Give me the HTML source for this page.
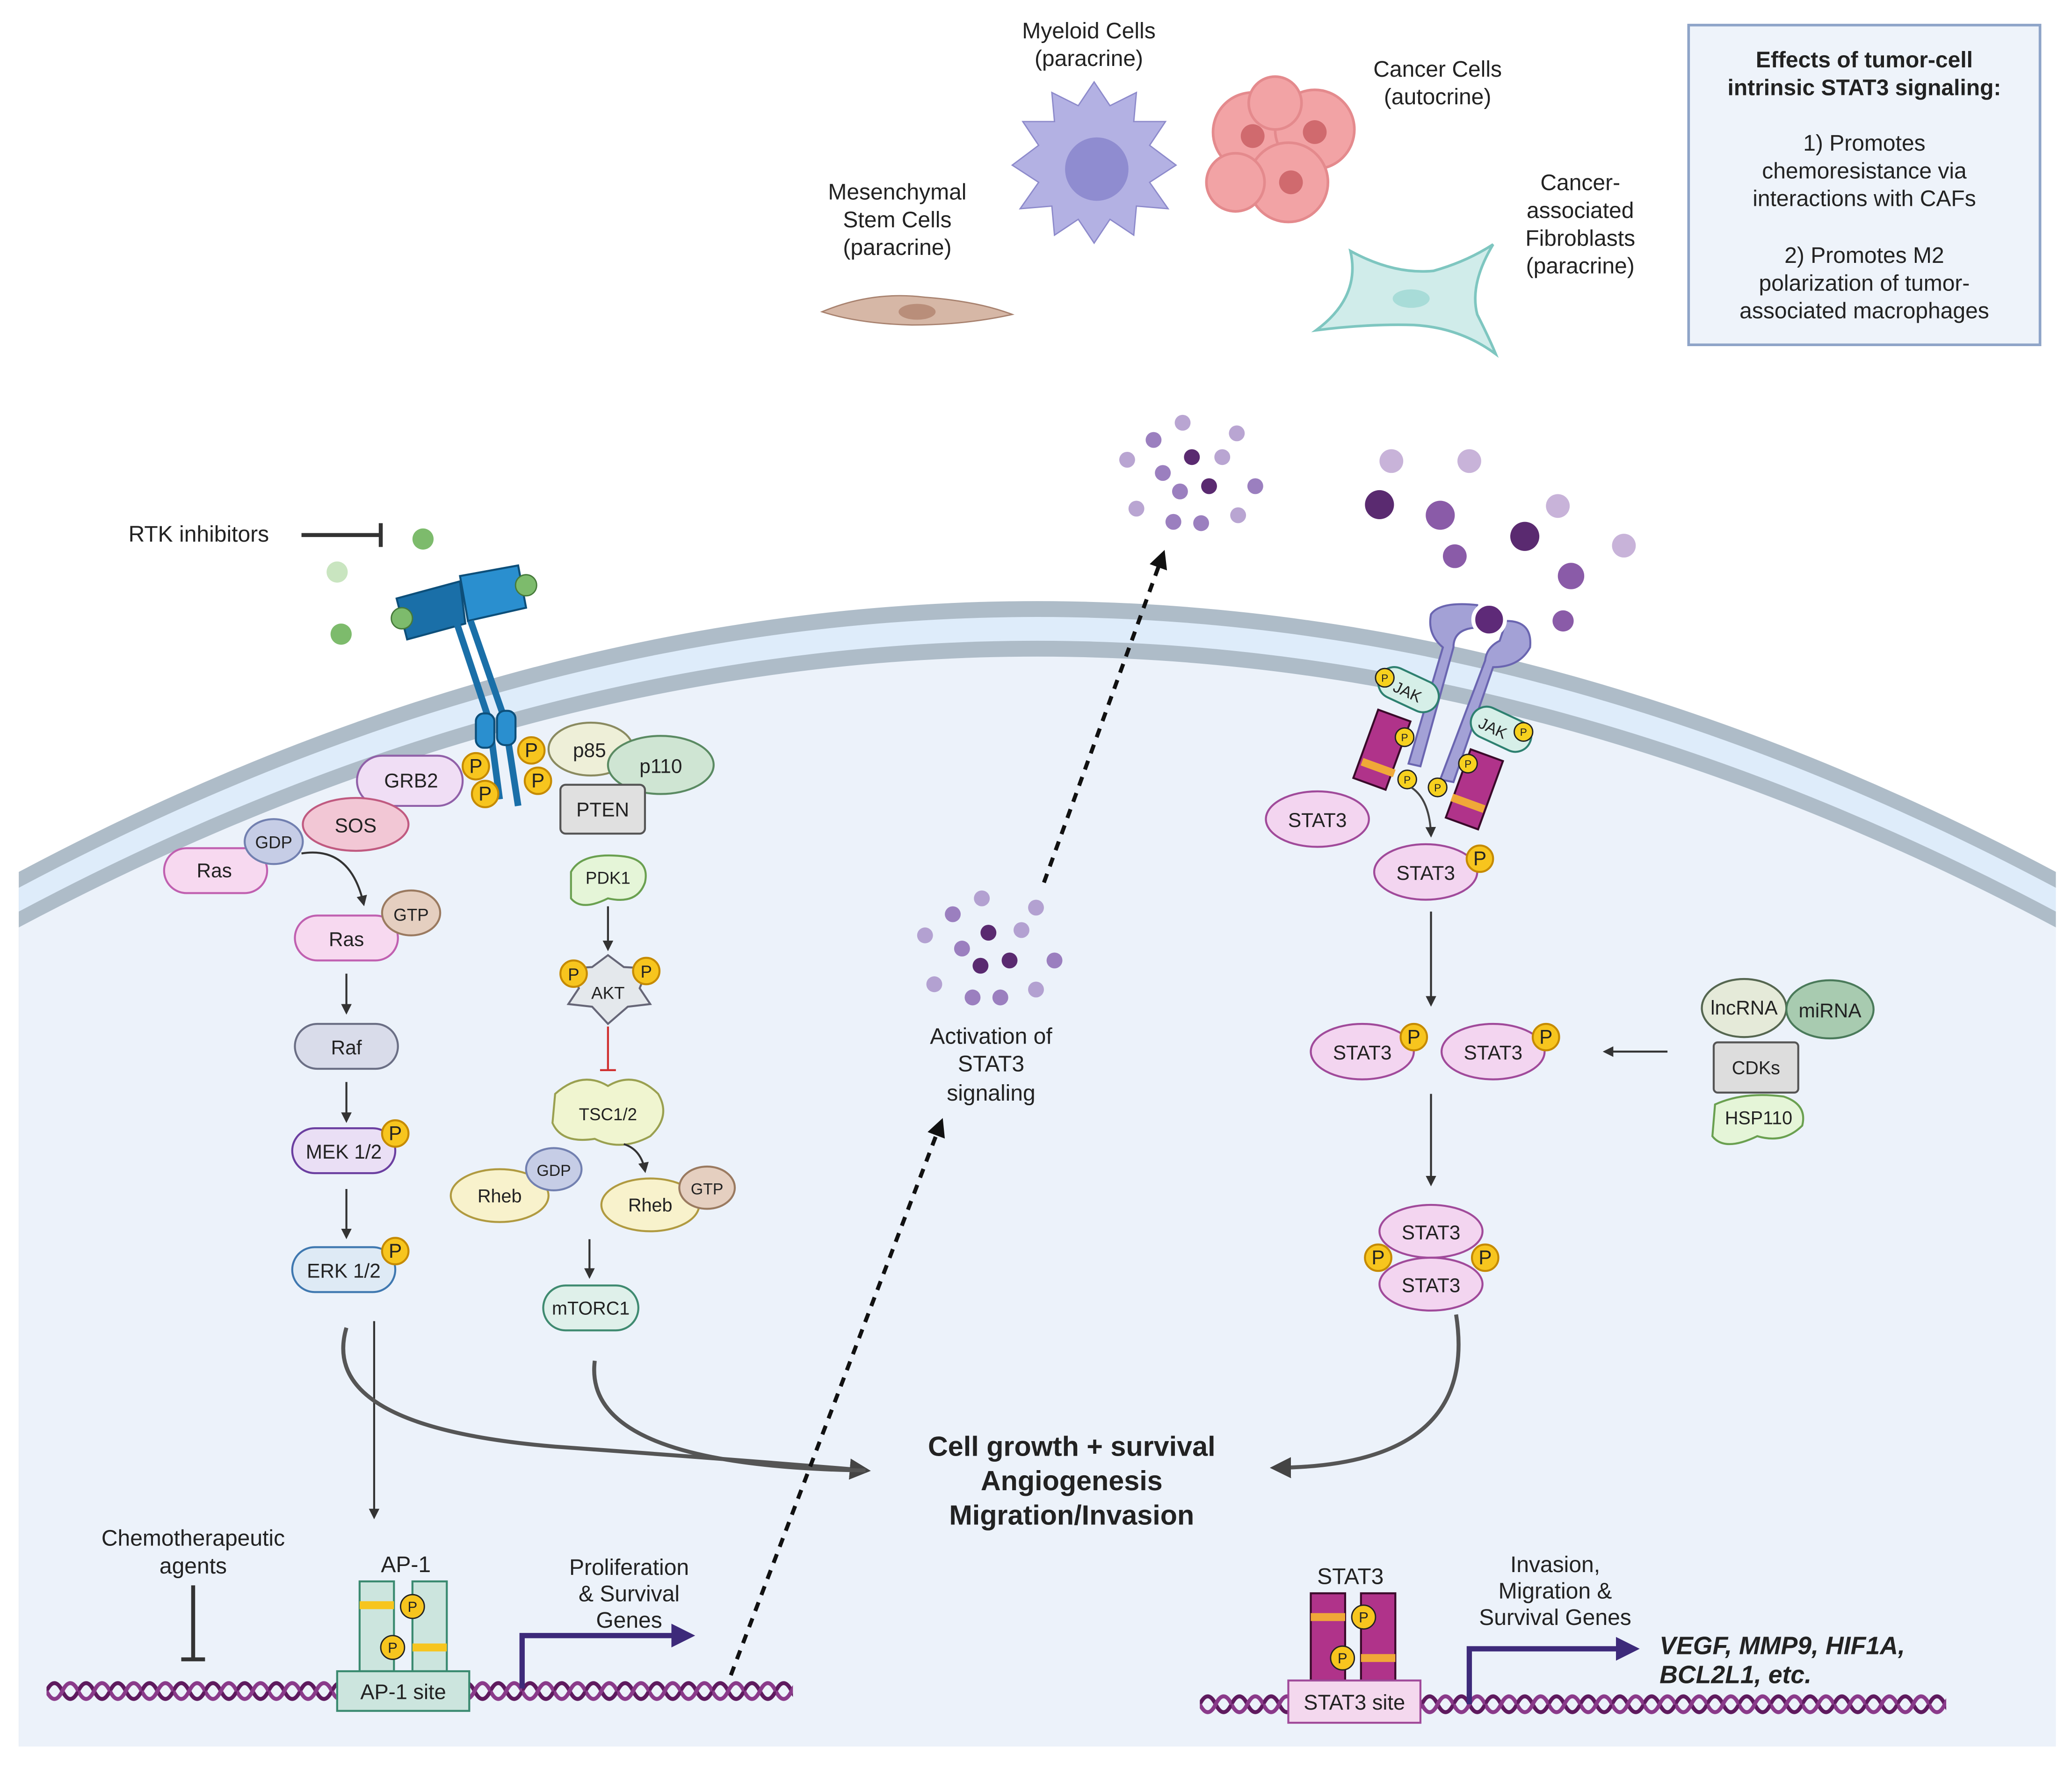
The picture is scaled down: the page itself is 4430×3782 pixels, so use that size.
<!DOCTYPE html>
<html><head><meta charset="utf-8"><style>
html,body{margin:0;padding:0;background:#fff}
svg{display:block}
text{font-family:"Liberation Sans",sans-serif;fill:#222}
</style></head><body>
<svg width="4430" height="3782" viewBox="0 0 1568 1339" xmlns="http://www.w3.org/2000/svg">
<defs>
<pattern id="hx1" x="35" y="1268" width="24" height="24" patternUnits="userSpaceOnUse">
<path d="M0,12 Q6,0 12,12 T24,12" fill="none" stroke="#5e1a5e" stroke-width="3"/>
<path d="M0,12 Q6,24 12,12 T24,12" fill="none" stroke="#8a3a8a" stroke-width="3"/>
</pattern>
<pattern id="hx2" x="908" y="1278" width="24" height="24" patternUnits="userSpaceOnUse">
<path d="M0,12 Q6,0 12,12 T24,12" fill="none" stroke="#5e1a5e" stroke-width="3"/>
<path d="M0,12 Q6,24 12,12 T24,12" fill="none" stroke="#8a3a8a" stroke-width="3"/>
</pattern>
<marker id="ah" markerWidth="8" markerHeight="8" refX="6" refY="4" orient="auto" markerUnits="userSpaceOnUse"><path d="M0,0 L8,4 L0,8 Z" fill="#333"/></marker>
<marker id="ahb" markerWidth="14" markerHeight="14" refX="10" refY="7" orient="auto" markerUnits="userSpaceOnUse"><path d="M0,0 L14,7 L0,14 Z" fill="#111"/></marker>
<marker id="ahg" markerWidth="16" markerHeight="16" refX="12" refY="8" orient="auto" markerUnits="userSpaceOnUse"><path d="M0,0 L16,8 L0,16 Z" fill="#444"/></marker>
<marker id="ahp" markerWidth="18" markerHeight="18" refX="12" refY="9" orient="auto" markerUnits="userSpaceOnUse"><path d="M0,0 L18,9 L0,18 Z" fill="#3d2a7a"/></marker>
</defs>

<!-- cell -->
<path d="M14,660 Q785,250 1556,660 L1556,1322 L14,1322 Z" fill="#aebcc8"/>
<path d="M14,672 Q785,262 1556,672 L1556,1322 L14,1322 Z" fill="#deecfa"/>
<path d="M14,690 Q785,280 1556,690 L1556,1322 L14,1322 Z" fill="#aebcc8"/>
<path d="M14,702 Q785,292 1556,702 L1556,1322 L14,1322 Z" fill="#ecf2fa"/>

<!-- top box -->
<rect x="1278" y="19" width="266" height="242" fill="#eef3fa" stroke="#8ea4c8" stroke-width="2"/>
<g font-size="17" text-anchor="middle">
<text x="1411" y="51" font-weight="bold">Effects of tumor-cell</text>
<text x="1411" y="72" font-weight="bold">intrinsic STAT3 signaling:</text>
<text x="1411" y="114">1) Promotes</text>
<text x="1411" y="135">chemoresistance via</text>
<text x="1411" y="156">interactions with CAFs</text>
<text x="1411" y="199">2) Promotes M2</text>
<text x="1411" y="220">polarization of tumor-</text>
<text x="1411" y="241">associated macrophages</text>
</g>

<!-- top cells -->
<g font-size="17" text-anchor="middle">
<text x="824" y="29">Myeloid Cells</text><text x="824" y="50">(paracrine)</text>
<text x="1088" y="58">Cancer Cells</text><text x="1088" y="79">(autocrine)</text>
<text x="679" y="151">Mesenchymal</text><text x="679" y="172">Stem Cells</text><text x="679" y="193">(paracrine)</text>
<text x="1196" y="144">Cancer-</text><text x="1196" y="165">associated</text><text x="1196" y="186">Fibroblasts</text><text x="1196" y="207">(paracrine)</text>
</g>
<polygon points="828,62 840,80 860,70 858,92 882,92 870,110 890,125 870,138 884,158 860,156 858,178 840,166 828,184 816,166 798,178 796,156 772,158 786,138 766,125 786,110 774,92 798,92 796,70 816,80" fill="#b3b1e3" stroke="#8d8acb"/>
<circle cx="830" cy="128" r="24" fill="#8f8cd0"/>
<g fill="#f2a3a5" stroke="#e48a8d" stroke-width="2">
<circle cx="948" cy="100" r="30"/><circle cx="995" cy="98" r="30"/><circle cx="975" cy="138" r="30"/><circle cx="935" cy="138" r="22"/><circle cx="965" cy="78" r="20"/>
</g>
<g fill="#d06a6e"><circle cx="948" cy="103" r="9"/><circle cx="995" cy="100" r="9"/><circle cx="977" cy="138" r="9"/></g>
<path d="M622,236 Q660,220 700,225 Q740,228 766,238 Q730,246 690,246 Q650,245 622,236 Z" fill="#d6b7a6" stroke="#a8826f"/>
<ellipse cx="694" cy="236" rx="14" ry="6" fill="#b98e7a"/>
<path d="M996,250 Q1030,225 1022,190 Q1055,208 1085,205 Q1110,198 1130,185 Q1112,215 1118,238 Q1128,258 1132,268 Q1105,248 1070,246 Q1035,245 996,250 Z" fill="#d0ecea" stroke="#7ec6c0" stroke-width="2"/>
<ellipse cx="1068" cy="226" rx="14" ry="7" fill="#a8dcd8"/>

<!-- cytokine dots -->
<g fill="#9b7fbf">
<circle cx="853" cy="348" r="6" opacity=".7"/><circle cx="873" cy="333" r="6"/><circle cx="895" cy="320" r="6" opacity=".7"/><circle cx="936" cy="328" r="6" opacity=".7"/><circle cx="880" cy="358" r="6"/><circle cx="925" cy="346" r="6" opacity=".7"/><circle cx="950" cy="368" r="6"/><circle cx="860" cy="385" r="6" opacity=".7"/><circle cx="888" cy="395" r="6"/><circle cx="909" cy="396" r="6"/><circle cx="937" cy="390" r="6" opacity=".7"/><circle cx="893" cy="372" r="6"/>
</g>
<circle cx="902" cy="346" r="6" fill="#5a2a70"/><circle cx="915" cy="368" r="6" fill="#5a2a70"/>
<g fill="#9b7fbf">
<circle cx="721" cy="692" r="6"/><circle cx="743" cy="680" r="6" opacity=".7"/><circle cx="784" cy="687" r="6" opacity=".7"/><circle cx="700" cy="708" r="6" opacity=".7"/><circle cx="728" cy="718" r="6"/><circle cx="773" cy="704" r="6" opacity=".7"/><circle cx="798" cy="727" r="6"/><circle cx="707" cy="745" r="6" opacity=".7"/><circle cx="736" cy="755" r="6"/><circle cx="757" cy="755" r="6"/><circle cx="784" cy="749" r="6" opacity=".7"/>
</g>
<circle cx="748" cy="706" r="6" fill="#5a2a70"/><circle cx="764" cy="727" r="6" fill="#5a2a70"/><circle cx="742" cy="731" r="6" fill="#5a2a70"/>
<g>
<circle cx="1053" cy="349" r="9" fill="#c8b3d9"/><circle cx="1112" cy="349" r="9" fill="#c8b3d9"/><circle cx="1044" cy="382" r="11" fill="#5a2a70"/><circle cx="1090" cy="390" r="11" fill="#8a5ba8"/><circle cx="1179" cy="383" r="9" fill="#c8b3d9"/><circle cx="1154" cy="406" r="11" fill="#5a2a70"/><circle cx="1229" cy="413" r="9" fill="#c8b3d9"/><circle cx="1101" cy="421" r="9" fill="#8a5ba8"/><circle cx="1189" cy="436" r="10" fill="#8a5ba8"/><circle cx="1183" cy="470" r="8" fill="#8a5ba8"/>
</g>

<!-- RTK inhibitors -->
<text x="97" y="410" font-size="17">RTK inhibitors</text>
<line x1="228" y1="405" x2="288" y2="405" stroke="#333" stroke-width="3"/>
<line x1="288" y1="396" x2="288" y2="414" stroke="#333" stroke-width="3"/>
<circle cx="320" cy="408" r="8" fill="#7dbb6c"/><circle cx="255" cy="433" r="8" fill="#c9e5c0"/><circle cx="258" cy="480" r="8" fill="#7dbb6c"/>
<!-- RTK -->
<g stroke="#0d4f7a" stroke-width="1.5">
<path d="M300,453 L348,440 L352,472 L308,484 Z" fill="#1a6fa8"/>
<path d="M348,436 L392,428 L398,460 L354,470 Z" fill="#2a8fcf"/>
<path d="M345,470 L370,545 L378,605" fill="none" stroke="#1a6fa8" stroke-width="5"/>
<path d="M356,470 L382,545 L392,610" fill="none" stroke="#1a6fa8" stroke-width="5"/>
<rect x="360" y="540" width="14" height="26" rx="6" fill="#2a8fcf"/><rect x="376" y="538" width="14" height="26" rx="6" fill="#2a8fcf"/>
</g>
<circle cx="304" cy="468" r="8" fill="#7dbb6c" stroke="#467a3a"/><circle cx="398" cy="443" r="8" fill="#7dbb6c" stroke="#467a3a"/>

<!-- JAK receptor -->
<g stroke="#6a65b0" stroke-width="1.5" fill="#a3a1d6">
<path d="M1083,465 Q1090,455 1118,458 L1120,475 Q1100,475 1100,490 L1075,580 L1066,578 L1092,490 Q1080,480 1083,465 Z"/>
<path d="M1158,490 Q1160,470 1140,470 L1135,485 Q1125,490 1124,500 L1090,590 L1100,592 L1130,505 Q1150,505 1158,490 Z"/>
</g>
<circle cx="1127" cy="469" r="12" fill="#5e2a78" stroke="#fff" stroke-width="3"/>
<g stroke="#2e8070" stroke-width="1.5" fill="#d6efe8">
<rect x="1042" y="510" width="48" height="24" rx="12" transform="rotate(25 1066 522)"/>
<rect x="1112" y="540" width="48" height="24" rx="12" transform="rotate(25 1136 552)"/>
</g>
<text x="1066" y="528" font-size="12" text-anchor="middle" transform="rotate(25 1066 522)">JAK</text>
<text x="1130" y="558" font-size="12" text-anchor="middle" transform="rotate(25 1136 552)">JAK</text>
<g fill="#b0338a" stroke="#3a0a2a" stroke-width="1.5">
<rect x="1033" y="540" width="26" height="55" transform="rotate(20 1046 567)"/>
<rect x="1103" y="570" width="26" height="55" transform="rotate(20 1116 597)"/>
</g>
<rect x="1030" y="578" width="26" height="6" fill="#f0a838" transform="rotate(20 1043 581)"/>
<rect x="1098" y="605" width="26" height="6" fill="#f0a838" transform="rotate(20 1111 608)"/>
<g fill="#f7d11e" stroke="#222" stroke-width="1">
<circle cx="1048" cy="513" r="7"/><circle cx="1153" cy="554" r="7"/><circle cx="1063" cy="558" r="7"/><circle cx="1111" cy="578" r="7"/><circle cx="1065" cy="590" r="7"/><circle cx="1088" cy="596" r="7"/>
</g>
<g font-size="8" text-anchor="middle">
<text x="1048" y="516">P</text><text x="1153" y="557">P</text><text x="1063" y="561">P</text><text x="1111" y="581">P</text><text x="1065" y="593">P</text><text x="1088" y="599">P</text>
</g>
<path d="M1068,596 Q1082,605 1083,632" fill="none" stroke="#444" stroke-width="1.5" marker-end="url(#ah)"/>

<!-- left pathway nodes -->
<g stroke-width="1.5">
<rect x="270" y="572" width="80" height="38" rx="19" fill="#f0def5" stroke="#9060a8"/>
<ellipse cx="269" cy="624" rx="40" ry="20" fill="#f2c7d5" stroke="#c05a80"/>
<rect x="124" y="642" width="78" height="34" rx="17" fill="#f7d9f0" stroke="#c060b0"/>
<ellipse cx="207" cy="637" rx="22" ry="17" fill="#c6cde6" stroke="#7280b0"/>
<rect x="223" y="693" width="78" height="34" rx="17" fill="#f7d9f0" stroke="#c060b0"/>
<ellipse cx="311" cy="691" rx="22" ry="17" fill="#e5cfc0" stroke="#9a7a60"/>
<rect x="223" y="775" width="78" height="34" rx="17" fill="#d9dcea" stroke="#6b6f85"/>
<rect x="221" y="854" width="78" height="34" rx="17" fill="#eadff5" stroke="#6b3fa0"/>
<rect x="221" y="944" width="78" height="34" rx="17" fill="#deeaf5" stroke="#3f78b0"/>
<ellipse cx="447" cy="567" rx="32" ry="20" fill="#eeefd8" stroke="#8a8a60"/>
<ellipse cx="500" cy="579" rx="40" ry="22" fill="#cfe5d3" stroke="#5a8a62"/>
<rect x="424" y="594" width="64" height="37" rx="4" fill="#e0e0e0" stroke="#555"/>
<path d="M432,660 Q440,645 470,648 Q492,650 488,668 Q482,685 460,680 Q440,690 432,680 Z" fill="#e5f5d8" stroke="#6aa050"/>
<polygon points="460,723 472,732 490,733 484,748 492,760 475,762 460,775 448,762 430,760 438,748 430,733 448,732" fill="#e4e8ec" stroke="#667"/>
<path d="M420,828 Q440,810 460,822 Q480,810 498,828 Q508,845 492,860 Q470,872 450,862 Q425,866 418,850 Z" fill="#f0f5d0" stroke="#9aa050"/>
<ellipse cx="378" cy="905" rx="37" ry="20" fill="#f8f2cc" stroke="#b09a40"/>
<ellipse cx="419" cy="885" rx="21" ry="16" fill="#c6cde6" stroke="#7280b0"/>
<ellipse cx="492" cy="912" rx="37" ry="20" fill="#f8f2cc" stroke="#b09a40"/>
<ellipse cx="535" cy="899" rx="21" ry="16" fill="#e5cfc0" stroke="#9a7a60"/>
<rect x="411" y="973" width="72" height="34" rx="17" fill="#dff0ea" stroke="#3f8a70"/>
</g>
<g fill="#f7c51e" stroke="#c58a00" stroke-width="1.5">
<circle cx="360" cy="580" r="10"/><circle cx="402" cy="568" r="10"/><circle cx="367" cy="601" r="10"/><circle cx="407" cy="591" r="10"/>
<circle cx="299" cy="858" r="10"/><circle cx="299" cy="947" r="10"/><circle cx="434" cy="737" r="10"/><circle cx="489" cy="735" r="10"/>
</g>
<g font-size="15" text-anchor="middle">
<text x="360" y="585">P</text><text x="402" y="573">P</text><text x="367" y="606">P</text><text x="407" y="596">P</text>
<text x="299" y="863">P</text><text x="299" y="952">P</text><text x="434" y="742" font-size="13">P</text><text x="489" y="740" font-size="13">P</text>
<text x="311" y="596">GRB2</text><text x="269" y="630">SOS</text><text x="162" y="664">Ras</text><text x="207" y="642" font-size="13">GDP</text>
<text x="262" y="716">Ras</text><text x="311" y="697" font-size="13">GTP</text><text x="262" y="798">Raf</text>
<text x="260" y="877">MEK 1/2</text><text x="260" y="967">ERK 1/2</text>
<text x="446" y="573">p85</text><text x="500" y="585">p110</text><text x="456" y="618">PTEN</text>
<text x="460" y="669" font-size="13">PDK1</text><text x="460" y="756" font-size="13">AKT</text><text x="460" y="848" font-size="13">TSC1/2</text>
<text x="378" y="910" font-size="14">Rheb</text><text x="419" y="890" font-size="12">GDP</text><text x="492" y="917" font-size="14">Rheb</text><text x="535" y="904" font-size="12">GTP</text>
<text x="447" y="995" font-size="14">mTORC1</text>
</g>
<g stroke="#333" stroke-width="1.5" fill="none">
<path d="M228,646 Q265,640 275,684" marker-end="url(#ah)"/>
<line x1="262" y1="737" x2="262" y2="766" marker-end="url(#ah)"/>
<line x1="262" y1="819" x2="262" y2="848" marker-end="url(#ah)"/>
<line x1="262" y1="900" x2="262" y2="936" marker-end="url(#ah)"/>
<line x1="460" y1="686" x2="460" y2="718" marker-end="url(#ah)"/>
<line x1="446" y1="938" x2="446" y2="966" marker-end="url(#ah)"/>
<path d="M472,866 Q485,870 488,886" marker-end="url(#ah)"/>
<line x1="283" y1="1000" x2="283" y2="1148" marker-end="url(#ah)"/>
</g>
<line x1="460" y1="777" x2="460" y2="810" stroke="#d03030" stroke-width="1.5"/>
<line x1="454" y1="810" x2="466" y2="810" stroke="#d03030" stroke-width="1.5"/>

<!-- curved arrows to center -->
<g fill="none" stroke="#555" stroke-width="3">
<path d="M262,1005 Q240,1080 420,1095 Q560,1105 655,1113" marker-end="url(#ahg)"/>
<path d="M450,1030 Q440,1110 655,1113"/>
<path d="M1102,995 Q1120,1110 965,1111" marker-end="url(#ahg)"/>
</g>
<g font-size="21" font-weight="bold" text-anchor="middle">
<text x="811" y="1102">Cell growth + survival</text>
<text x="811" y="1128">Angiogenesis</text>
<text x="811" y="1154">Migration/Invasion</text>
</g>

<!-- dashed arrows -->
<g fill="none" stroke="#111" stroke-width="3" stroke-dasharray="7,6">
<path d="M553,1268 L712,850" marker-end="url(#ahb)"/>
<path d="M790,668 L880,420" marker-end="url(#ahb)"/>
</g>
<g font-size="17" text-anchor="middle">
<text x="750" y="790">Activation of</text><text x="750" y="811">STAT3</text><text x="750" y="833">signaling</text>
</g>

<!-- right pathway -->
<g stroke="#a04a9a" stroke-width="1.5" fill="#f3d5f0">
<ellipse cx="997" cy="620" rx="39" ry="21"/>
<ellipse cx="1079" cy="660" rx="39" ry="21"/>
<ellipse cx="1031" cy="796" rx="39" ry="21"/>
<ellipse cx="1130" cy="796" rx="39" ry="21"/>
<ellipse cx="1083" cy="932" rx="39" ry="20"/>
<ellipse cx="1083" cy="972" rx="39" ry="20"/>
</g>
<g fill="#f7c51e" stroke="#c58a00" stroke-width="1.5">
<circle cx="1120" cy="650" r="10"/><circle cx="1070" cy="785" r="10"/><circle cx="1170" cy="785" r="10"/><circle cx="1043" cy="952" r="10"/><circle cx="1124" cy="952" r="10"/>
</g>
<g font-size="15" text-anchor="middle">
<text x="1120" y="655">P</text><text x="1070" y="790">P</text><text x="1170" y="790">P</text><text x="1043" y="957">P</text><text x="1124" y="957">P</text>
<text x="997" y="626">STAT3</text><text x="1079" y="666">STAT3</text><text x="1031" y="802">STAT3</text><text x="1130" y="802">STAT3</text><text x="1083" y="938">STAT3</text><text x="1083" y="978">STAT3</text>
</g>
<g stroke="#333" stroke-width="1.5">
<line x1="1083" y1="690" x2="1083" y2="760" marker-end="url(#ah)"/>
<line x1="1083" y1="828" x2="1083" y2="896" marker-end="url(#ah)"/>
<line x1="1262" y1="796" x2="1215" y2="796" marker-end="url(#ah)"/>
</g>
<ellipse cx="1320" cy="763" rx="32" ry="22" fill="#e5ead9" stroke="#556650" stroke-width="1.5"/>
<ellipse cx="1385" cy="764" rx="33" ry="22" fill="#a8cbb0" stroke="#4a7a5a" stroke-width="1.5"/>
<rect x="1297" y="789" width="64" height="38" rx="3" fill="#ddd" stroke="#555" stroke-width="1.5"/>
<path d="M1298,836 Q1320,826 1350,830 Q1368,836 1364,852 Q1350,866 1330,860 Q1305,872 1296,860 Z" fill="#e5f5d8" stroke="#6aa050" stroke-width="1.5"/>
<g font-size="15" text-anchor="middle">
<text x="1320" y="768">lncRNA</text><text x="1385" y="770">miRNA</text><text x="1329" y="813" font-size="14">CDKs</text><text x="1331" y="851" font-size="14">HSP110</text>
</g>

<!-- bottom left DNA -->
<rect x="35" y="1268" width="565" height="24" fill="url(#hx1)"/>
<text x="146" y="1170" font-size="17" text-anchor="middle">Chemotherapeutic</text>
<text x="146" y="1191" font-size="17" text-anchor="middle">agents</text>
<line x1="146" y1="1200" x2="146" y2="1256" stroke="#333" stroke-width="3"/>
<line x1="137" y1="1256" x2="155" y2="1256" stroke="#333" stroke-width="3"/>
<text x="307" y="1190" font-size="17" text-anchor="middle">AP-1</text>
<g fill="#cce5de" stroke="#3a8a70" stroke-width="1.5">
<rect x="272" y="1197" width="26" height="68"/><rect x="312" y="1197" width="26" height="68"/>
<rect x="255" y="1265" width="100" height="30"/>
</g>
<rect x="272" y="1212" width="26" height="6" fill="#f7c51e"/><rect x="312" y="1244" width="26" height="6" fill="#f7c51e"/>
<circle cx="312" cy="1216" r="9" fill="#f7c51e" stroke="#222"/><circle cx="297" cy="1247" r="9" fill="#f7c51e" stroke="#222"/>
<text x="312" y="1220" font-size="11" text-anchor="middle">P</text><text x="297" y="1251" font-size="11" text-anchor="middle">P</text>
<text x="305" y="1286" font-size="16" text-anchor="middle">AP-1 site</text>
<path d="M395,1278 L395,1238 L520,1238" fill="none" stroke="#3d2a7a" stroke-width="4" marker-end="url(#ahp)"/>
<g font-size="17" text-anchor="middle">
<text x="476" y="1192">Proliferation</text><text x="476" y="1212">&amp; Survival</text><text x="476" y="1232">Genes</text>
</g>

<!-- bottom right DNA -->
<rect x="908" y="1278" width="565" height="24" fill="url(#hx2)"/>
<text x="1022" y="1199" font-size="17" text-anchor="middle">STAT3</text>
<g fill="#b0338a" stroke="#3a0a2a" stroke-width="1.5">
<rect x="992" y="1206" width="26" height="66"/><rect x="1030" y="1206" width="26" height="66"/>
</g>
<rect x="992" y="1221" width="26" height="6" fill="#f0a838"/><rect x="1030" y="1252" width="26" height="6" fill="#f0a838"/>
<circle cx="1032" cy="1224" r="9" fill="#f7c51e" stroke="#222"/><circle cx="1016" cy="1255" r="9" fill="#f7c51e" stroke="#222"/>
<text x="1032" y="1228" font-size="11" text-anchor="middle">P</text><text x="1016" y="1259" font-size="11" text-anchor="middle">P</text>
<rect x="975" y="1272" width="100" height="32" fill="#f4d8ee" stroke="#a04a9a" stroke-width="1.5"/>
<text x="1025" y="1294" font-size="16" text-anchor="middle">STAT3 site</text>
<path d="M1112,1290 L1112,1248 L1235,1248" fill="none" stroke="#3d2a7a" stroke-width="4" marker-end="url(#ahp)"/>
<g font-size="17" text-anchor="middle">
<text x="1177" y="1190">Invasion,</text><text x="1177" y="1210">Migration &amp;</text><text x="1177" y="1230">Survival Genes</text>
</g>
<text x="1256" y="1252" font-size="19" font-weight="bold" font-style="italic">VEGF, MMP9, HIF1A,</text>
<text x="1256" y="1274" font-size="19" font-weight="bold" font-style="italic">BCL2L1, etc.</text>
</svg>
</body></html>
